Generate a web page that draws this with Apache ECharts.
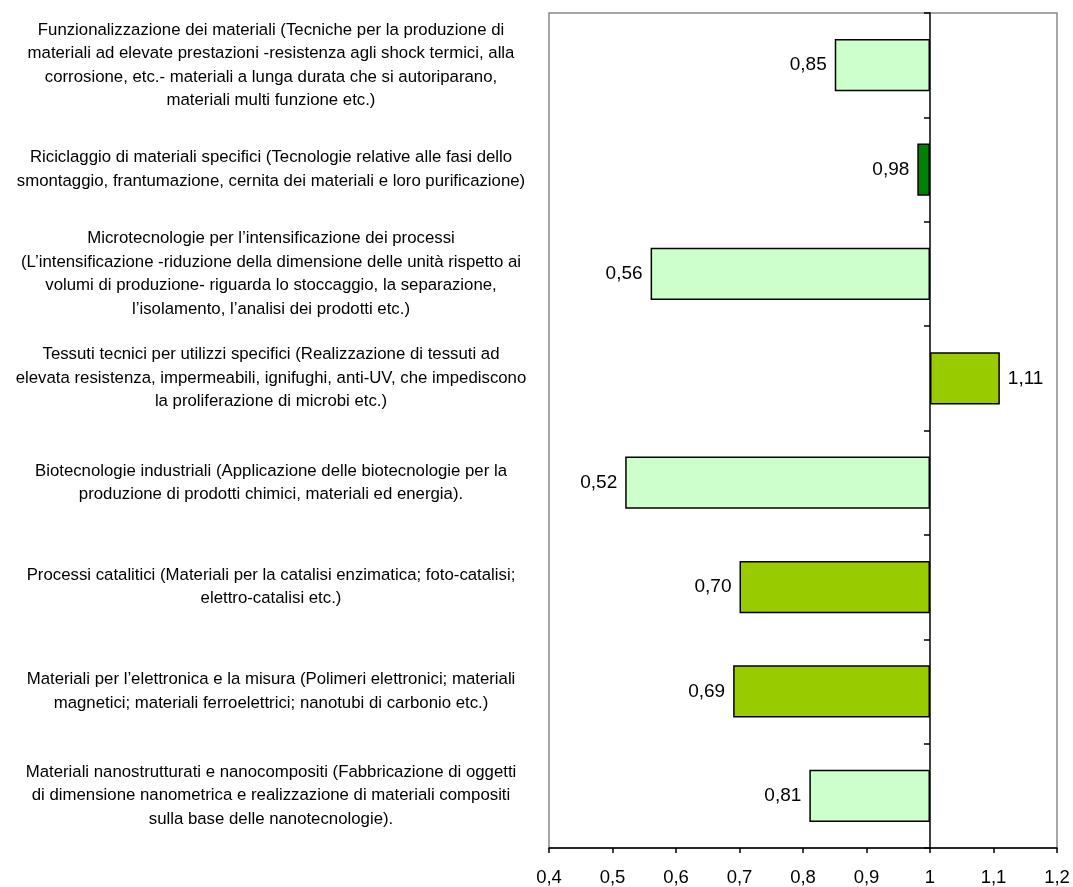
<!DOCTYPE html>
<html><head><meta charset="utf-8">
<script src="https://cdn.jsdelivr.net/npm/echarts@6/dist/echarts.min.js"></script>
<style>html,body{margin:0;padding:0;background:#fff}#c{width:1073px;height:887px}</style>
</head><body><div id="c"></div>
<script>
const categories = [
  "Funzionalizzazione dei materiali (Tecniche per la produzione di\nmateriali ad elevate prestazioni -resistenza agli shock termici, alla\ncorrosione, etc.- materiali a lunga durata che si autoriparano,\nmateriali multi funzione etc.)",
  "Riciclaggio di materiali specifici (Tecnologie relative alle fasi dello\nsmontaggio, frantumazione, cernita dei materiali e loro purificazione)",
  "Microtecnologie per l’intensificazione dei processi\n(L’intensificazione -riduzione della dimensione delle unità rispetto ai\nvolumi di produzione- riguarda lo stoccaggio, la separazione,\nl’isolamento, l’analisi dei prodotti etc.)",
  "Tessuti tecnici per utilizzi specifici (Realizzazione di tessuti ad\nelevata resistenza, impermeabili, ignifughi, anti-UV, che impediscono\nla proliferazione di microbi etc.)",
  "Biotecnologie industriali (Applicazione delle biotecnologie per la\nproduzione di prodotti chimici, materiali ed energia).",
  "Processi catalitici (Materiali per la catalisi enzimatica; foto-catalisi;\nelettro-catalisi etc.)",
  "Materiali per l’elettronica e la misura (Polimeri elettronici; materiali\nmagnetici; materiali ferroelettrici; nanotubi di carbonio etc.)",
  "Materiali nanostrutturati e nanocompositi (Fabbricazione di oggetti\ndi dimensione nanometrica e realizzazione di materiali compositi\nsulla base delle nanotecnologie)."
];
const values = [0.85, 0.98, 0.56, 1.11, 0.52, 0.70, 0.69, 0.81];
const baseline = 1;
const xTicks = [0.4, 0.5, 0.6, 0.7, 0.8, 0.9, 1, 1.1, 1.2];

const barColors = ['#CCFFCC', '#008000', '#CCFFCC', '#99CC00', '#CCFFCC', '#99CC00', '#99CC00', '#CCFFCC'];
const fmt = v => String(+(+v).toFixed(2)).replace('.', ',');
const fmt2 = v => v.toFixed(2).replace('.', ',');

const chart = echarts.init(document.getElementById('c'), null, {renderer: 'canvas'});
const FONT = 'Liberation Sans, Arial, sans-serif';
chart.setOption({
  animation: false,
  grid: {left: 549, right: 16, top: 13, bottom: 38, show: true, borderColor: '#888888', borderWidth: 1.5, backgroundColor: 'transparent'},
  xAxis: {
    type: 'value', min: xTicks[0], max: xTicks[xTicks.length - 1], interval: 0.1,
    axisLine: {show: true, lineStyle: {color: '#000', width: 1.5}},
    axisTick: {show: true, length: 5, lineStyle: {color: '#000', width: 1.5}},
    splitLine: {show: false},
    axisLabel: {formatter: v => fmt(v), color: '#000', fontSize: 18.5, fontFamily: FONT, margin: 20}
  },
  yAxis: [{
    type: 'category', data: categories, inverse: true,
    axisLine: {show: false}, axisTick: {show: false},
    axisLabel: {color: '#000', fontSize: 16.8, fontFamily: FONT, align: 'center', margin: 278, lineHeight: 23.5}
  }, {
    type: 'category', data: categories, inverse: true, position: 'left', offset: -381,
    axisLine: {show: true, lineStyle: {color: '#000', width: 1.5}},
    axisTick: {show: true, length: 6, lineStyle: {color: '#000', width: 1.5}},
    axisLabel: {show: false}
  }],
  series: [{
    type: 'bar', stack: 's', yAxisIndex: 0, barWidth: '50%', silent: true,
    itemStyle: {color: 'transparent'},
    data: values.map(v => Math.min(v, baseline))
  }, {
    type: 'bar', stack: 's', yAxisIndex: 0, barWidth: '50%',
    data: values.map((v, i) => ({
      value: Math.abs(v - baseline),
      itemStyle: {color: barColors[i], borderColor: '#000', borderWidth: 1.5},
      label: {show: true, position: v < baseline ? 'left' : 'right', distance: 8,
        formatter: () => fmt2(v), color: '#000', fontSize: 19, fontFamily: FONT}
    }))
  }]
});
</script></body></html>
